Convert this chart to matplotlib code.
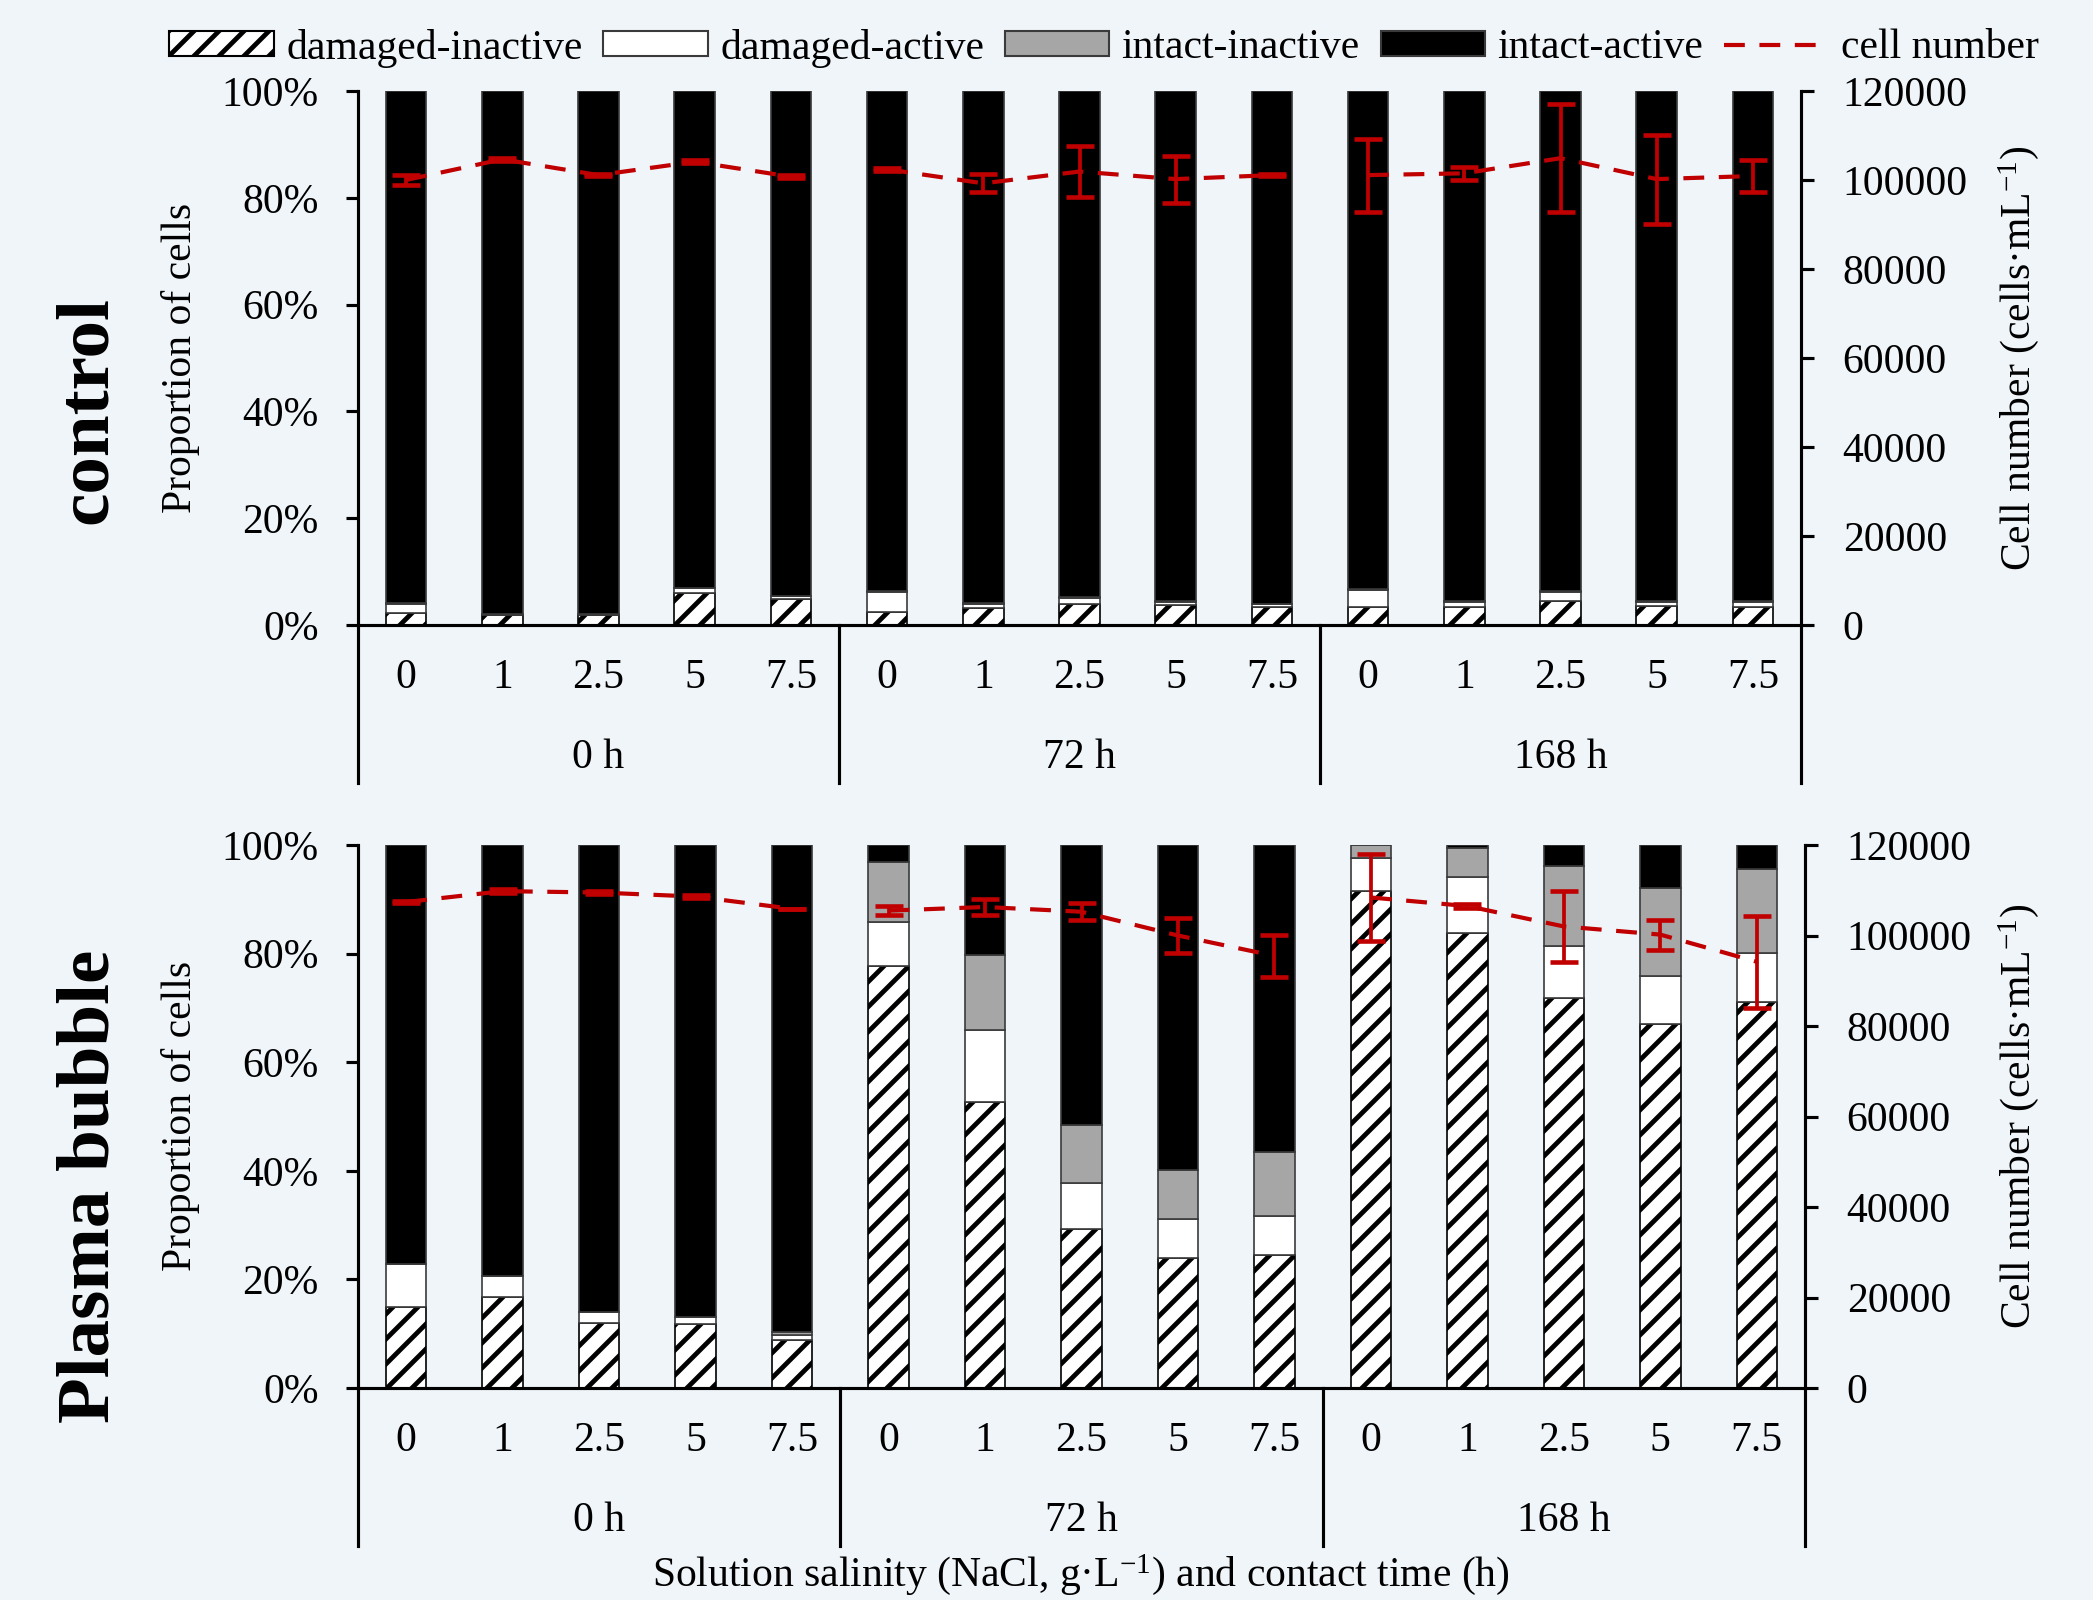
import matplotlib
matplotlib.use('Agg')
import matplotlib.pyplot as plt
import matplotlib.transforms as mtransforms
from matplotlib.patches import Patch
from matplotlib.lines import Line2D
from matplotlib.ticker import PercentFormatter, MultipleLocator
import numpy as np

plt.rcParams['font.family'] = ['Liberation Serif', 'DejaVu Serif']
plt.rcParams['mathtext.default'] = 'regular'
plt.rcParams['hatch.linewidth'] = 2.3

salinity = ['0', '1', '2.5', '5', '7.5']
contact_time = ['0 h', '72 h', '168 h']

# control, % of cells (intact-active = the rest up to 100 %)
ctrl_dmg_inact = [2.3, 1.8, 1.8, 5.9, 4.9, 2.5, 3.1, 3.9, 3.7, 3.4, 3.4, 3.3, 4.5, 3.6, 3.4]
ctrl_dmg_act = [1.7, 0.2, 0.2, 1.0, 0.5, 3.7, 0.9, 1.2, 0.7, 0.5, 3.2, 1.1, 1.7, 0.8, 1.0]
ctrl_int_inact = [0.1, 0.0, 0.0, 0.1, 0.1, 0.1, 0.1, 0.1, 0.1, 0.1, 0.1, 0.1, 0.1, 0.1, 0.1]
ctrl_cells = [100000, 104650, 101100, 104100, 100750, 102400, 99250, 101900,
              100200, 101100, 101100, 101500, 104900, 100200, 100900]
ctrl_err = [1200, 300, 300, 300, 300, 300, 2000, 5800, 5300, 300, 8200, 1500, 12100, 10000, 3700]

# plasma bubble
pb_dmg_inact = [15.0, 16.8, 12.0, 11.7, 8.8, 77.7, 52.7, 29.2, 24.0, 24.5, 91.6, 83.8, 71.8, 67.1, 71.1]
pb_dmg_act = [7.8, 3.9, 2.0, 1.3, 0.9, 8.2, 13.3, 8.6, 7.2, 7.1, 6.0, 10.3, 9.6, 8.7, 9.1]
pb_int_inact = [0.0, 0.0, 0.0, 0.0, 0.7, 11.0, 13.8, 10.7, 9.0, 11.8, 2.4, 5.3, 14.8, 16.3, 15.3]
pb_cells = [107400, 109800, 109500, 108600, 105900, 105500, 106300, 105250,
            100000, 95500, 108400, 106500, 102000, 100200, 94200]
pb_err = [300, 500, 300, 300, 0, 1060, 1800, 1900, 3900, 4700, 9700, 500, 7900, 3300, 10200]

W, H = 2093, 1600
BG = '#f0f5fa'
RED = '#c00000'
GREY = '#a6a6a6'
FS = 20

fig = plt.figure(figsize=(W / 150, H / 150), dpi=150, facecolor=BG)


def add_ax(l, t, r, b):
    return fig.add_axes([l / W, 1 - b / H, (r - l) / W, (b - t) / H])


def panel(box, dmg_inact, dmg_act, int_inact, cells, err):
    ax = add_ax(*box)
    ax_h = box[3] - box[1]
    ax.set_facecolor('none')
    n = len(dmg_inact)
    x = np.arange(n)
    di = np.array(dmg_inact) / 100
    da = np.array(dmg_act) / 100
    ii = np.array(int_inact) / 100
    ia = 1 - di - da - ii
    w = 0.42
    ec = '#3a3a3a'
    ax.bar(x, di, w, color='white', edgecolor='black', lw=0.8, hatch='//')
    ax.bar(x, da, w, bottom=di, color='white', edgecolor=ec, lw=0.8)
    ax.bar(x, ii, w, bottom=di + da, color=GREY, edgecolor=ec, lw=0.8)
    ax.bar(x, ia, w, bottom=di + da + ii, color='black', edgecolor=ec, lw=0.8)
    ax.set_xlim(-0.5, n - 0.5)
    ax.set_ylim(0, 1)
    ax.yaxis.set_major_locator(MultipleLocator(0.2))
    ax.yaxis.set_major_formatter(PercentFormatter(1.0, decimals=0))
    ax.set_xticks([])
    for s in ['top', 'right']:
        ax.spines[s].set_visible(False)
    for s in ['left', 'bottom']:
        ax.spines[s].set_linewidth(1.5)
    ax.tick_params(axis='y', labelsize=FS, length=6, width=1.5, pad=13)

    trans = mtransforms.blended_transform_factory(ax.transData, ax.transAxes)
    for i in range(n):
        ax.text(i, -53 / ax_h, salinity[i % 5], transform=trans,
                ha='center', va='center', fontsize=FS)
    for g, lab in enumerate(contact_time):
        ax.text(5 * g + 2, -133 / ax_h, lab, transform=trans,
                ha='center', va='center', fontsize=FS)
    for xs in [-0.5, 4.5, 9.5, 14.5]:
        ax.plot([xs, xs], [0, -158 / ax_h], transform=trans, color='black',
                lw=1.5, clip_on=False)

    ax2 = ax.twinx()
    ax2.set_ylim(0, 120000)
    ax2.yaxis.set_major_locator(MultipleLocator(20000))
    for s in ['top', 'left', 'bottom']:
        ax2.spines[s].set_visible(False)
    ax2.spines['right'].set_linewidth(1.5)
    ax2.tick_params(axis='y', labelsize=FS, length=6, width=1.5, pad=14)
    c = np.array(cells)
    e = np.array(err)
    for g in range(3):
        sl = slice(5 * g, 5 * g + 5)
        ax2.plot(x[sl], c[sl], color=RED, lw=2, ls=(0, (5, 3.5)))
        ax2.errorbar(x[sl], c[sl], yerr=e[sl], fmt='none', ecolor=RED,
                     elinewidth=1.8, capsize=6.5, capthick=2.2)
    return ax, ax2


panel((358, 91, 1801, 625), ctrl_dmg_inact, ctrl_dmg_act, ctrl_int_inact, ctrl_cells, ctrl_err)
panel((358, 845, 1805, 1388), pb_dmg_inact, pb_dmg_act, pb_int_inact, pb_cells, pb_err)

# axis titles
for yc in [358, 1116]:
    fig.text(180 / W, 1 - yc / H, 'Proportion of cells', rotation=90,
             ha='center', va='center', fontsize=FS)
    fig.text(2019 / W, 1 - yc / H, r'Cell number (cells·mL$^{-1}$)', rotation=90,
             ha='center', va='center', fontsize=FS)
fig.text(88 / W, 1 - 410 / H, 'control', rotation=90, ha='center', va='center',
         fontsize=36, fontweight='bold')
fig.text(91 / W, 1 - 1186 / H, 'Plasma bubble', rotation=90, ha='center', va='center',
         fontsize=36, fontweight='bold')
fig.text(1081 / W, 1 - 1597 / H, r'Solution salinity (NaCl, g·L$^{-1}$) and contact time (h)',
         ha='center', va='bottom', fontsize=FS)

handles = [
    Patch(facecolor='white', edgecolor='black', hatch='//', label='damaged-inactive'),
    Patch(facecolor='white', edgecolor='#3a3a3a', label='damaged-active'),
    Patch(facecolor=GREY, edgecolor='#3a3a3a', label='intact-inactive'),
    Patch(facecolor='black', edgecolor='#3a3a3a', label='intact-active'),
    Line2D([], [], color=RED, lw=2, ls=(0, (5, 3.5)), label='cell number'),
]
fig.legend(handles=handles, loc='center', bbox_to_anchor=(1104 / W, 1 - 48 / H), ncol=5,
           frameon=False, fontsize=FS, handlelength=2.5, handleheight=0.55,
           handletextpad=0.3, columnspacing=0.5, borderpad=0, borderaxespad=0)

fig.savefig('out.png', dpi=150, facecolor=BG)
